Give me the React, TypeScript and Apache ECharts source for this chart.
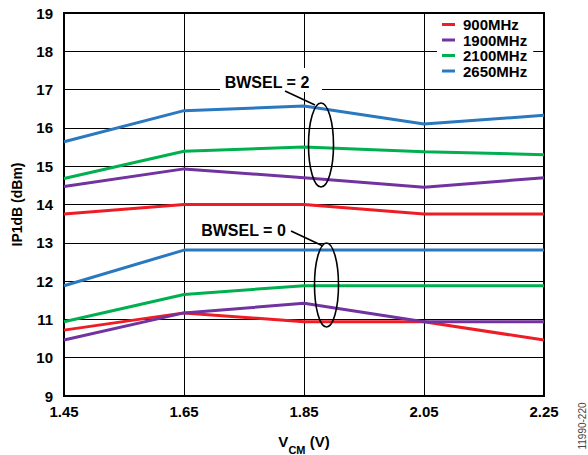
import React, { useEffect, useRef } from "react";
import * as echarts from "echarts";

const categories = ["1.45", "1.65", "1.85", "2.05", "2.25"];
const seriesNames = ["900MHz", "1900MHz", "2100MHz", "2650MHz"];
const seriesColors = ["#ee1c25", "#7232a0", "#00b050", "#2a78c0"];

// BWSEL = 2
const bw2_900 = [13.75, 14.0, 14.0, 13.75, 13.75];
const bw2_1900 = [14.47, 14.93, 14.7, 14.45, 14.7];
const bw2_2100 = [14.68, 15.39, 15.5, 15.38, 15.3];
const bw2_2650 = [15.64, 16.45, 16.57, 16.1, 16.33];
// BWSEL = 0
const bw0_900 = [10.72, 11.17, 10.94, 10.94, 10.46];
const bw0_1900 = [10.46, 11.17, 11.42, 10.94, 10.94];
const bw0_2100 = [10.94, 11.65, 11.88, 11.88, 11.88];
const bw0_2650 = [11.88, 12.81, 12.81, 12.81, 12.81];

const yMin = 9;
const yMax = 19;
const yInterval = 1;

const FONT = "'Liberation Sans', Arial, Helvetica, sans-serif";

export default function App() {
  const ref = useRef<HTMLDivElement>(null);
  useEffect(() => {
    document.body.style.margin = "0";
    if (!ref.current) return;
    const chart = echarts.init(ref.current, undefined, { renderer: "svg" });
    const groups = [
      [bw0_900, bw0_1900, bw0_2100, bw0_2650],
      [bw2_900, bw2_1900, bw2_2100, bw2_2650],
    ];
    const series: any[] = [];
    groups.forEach((g) => {
      g.forEach((d, i) => {
        series.push({
          type: "line",
          name: seriesNames[i],
          data: d,
          symbol: "none",
          color: seriesColors[i],
          lineStyle: { width: 3, color: seriesColors[i] },
          z: 3 + i,
        });
      });
    });
    const option: any = {
      animation: false,
      textStyle: { fontFamily: FONT },
      grid: {
        left: 64,
        right: 44,
        top: 13,
        bottom: 59,
        show: true,
        borderColor: "#000",
        borderWidth: 2,
        backgroundColor: "transparent",
        containLabel: false,
        outerBoundsMode: "none",
      },
      legend: {
        data: seriesNames,
        orient: "vertical",
        left: 437,
        top: 15,
        icon: "rect",
        itemWidth: 13,
        itemHeight: 3,
        itemGap: 0.5,
        padding: [2, 6, 4, 5],
        backgroundColor: "#fff",
        textStyle: {
          fontFamily: FONT,
          fontWeight: "bold",
          fontSize: 15,
          color: "#000",
          lineHeight: 15,
          padding: [0, 0, 0, 3],
        },
      },
      xAxis: {
        type: "category",
        data: categories,
        boundaryGap: false,
        axisLine: { show: false },
        axisTick: { show: false },
        axisLabel: {
          fontFamily: FONT,
          fontWeight: "bold",
          fontSize: 15,
          color: "#000",
          margin: 8,
        },
        splitLine: { show: true, lineStyle: { color: "#000", width: 1 } },
        name: "{v|V}{sub|CM}{v| (V)}",
        nameLocation: "middle",
        nameGap: 38,
        nameTextStyle: {
          rich: {
            v: { fontFamily: FONT, fontWeight: "bold", fontSize: 15, color: "#000" },
            sub: {
              fontFamily: FONT,
              fontWeight: "bold",
              fontSize: 11,
              color: "#000",
              verticalAlign: "bottom",
              padding: [0, 0, -6, 0],
            },
          },
        },
      },
      yAxis: {
        type: "value",
        min: yMin,
        max: yMax,
        interval: yInterval,
        axisLine: { show: false },
        axisTick: { show: false },
        axisLabel: {
          fontFamily: FONT,
          fontWeight: "bold",
          fontSize: 15,
          color: "#000",
          margin: 11,
        },
        splitLine: { show: true, lineStyle: { color: "#000", width: 1 } },
        name: "IP1dB (dBm)",
        nameLocation: "middle",
        nameGap: 40,
        nameTextStyle: {
          fontFamily: FONT,
          fontWeight: "bold",
          fontSize: 14,
          color: "#000",
        },
      },
      series,
      graphic: [
        {
          type: "rect",
          shape: { x: 220, y: 68, width: 102, height: 24 },
          style: { fill: "#fff" },
          z: 50,
        },
        {
          type: "text",
          x: 267,
          y: 82,
          z: 51,
          style: {
            text: "BWSEL = 2",
            fontFamily: FONT,
            fontWeight: "bold",
            fontSize: 16,
            fill: "#000",
            align: "center",
            verticalAlign: "middle",
          },
        },
        {
          type: "line",
          shape: { x1: 285, y1: 91, x2: 315, y2: 105 },
          style: { stroke: "#000", lineWidth: 1.6 },
          z: 51,
        },
        {
          type: "ellipse",
          shape: { cx: 321, cy: 145, rx: 12.5, ry: 42 },
          style: { fill: "none", stroke: "#000", lineWidth: 1.6 },
          z: 51,
        },
        {
          type: "text",
          x: 243.5,
          y: 230,
          z: 51,
          style: {
            text: "BWSEL = 0",
            fontFamily: FONT,
            fontWeight: "bold",
            fontSize: 16,
            fill: "#000",
            align: "center",
            verticalAlign: "middle",
          },
        },
        {
          type: "line",
          shape: { x1: 291, y1: 231, x2: 323, y2: 246 },
          style: { stroke: "#000", lineWidth: 1.6 },
          z: 51,
        },
        {
          type: "ellipse",
          shape: { cx: 326.5, cy: 285, rx: 12, ry: 42 },
          style: { fill: "none", stroke: "#000", lineWidth: 1.6 },
          z: 51,
        },
        {
          type: "text",
          x: 582,
          y: 426,
          rotation: Math.PI / 2,
          z: 51,
          style: {
            text: "11990-220",
            fontFamily: FONT,
            fontSize: 10,
            fill: "#444",
            align: "center",
            verticalAlign: "middle",
          },
        },
      ],
    };
    chart.setOption(option);
    return () => chart.dispose();
  }, []);
  return <div ref={ref} style={{ width: 588, height: 455 }} />;
}
